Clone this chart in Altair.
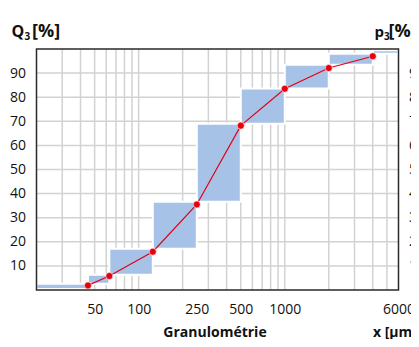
import altair as alt
import pandas as pd

# cumulative distribution Q3 (points on the red curve)
sizes = [45, 63, 125, 250, 500, 1000, 2000, 4000]
q3 = [1.9, 5.8, 15.9, 35.5, 68.2, 83.5, 92.1, 97.0]

# class rectangles (p3)
bar_from = [20, 45, 63, 125, 250, 500, 1000, 2000, 4000]
bar_to = [45, 63, 125, 250, 500, 1000, 2000, 4000, 6000]
bar_edges = [0.4, 2.6, 6.3, 17.1, 36.6, 69.0, 83.6, 93.5, 98.0, 99.5]

x_ticks = [50, 100, 250, 500, 1000, 6000]
y_ticks = [10, 20, 30, 40, 50, 60, 70, 80, 90]
x_grid = [30, 40, 50, 60, 70, 80, 90, 100, 200, 300, 400, 500, 600, 700, 800, 900,
          1000, 2000, 3000, 4000, 5000]

W, H = 362, 241
FONT = "Open Sans"
GRID = "#d2d2d2"

xs = alt.Scale(type="log", domain=[20, 6000], nice=False)
ys = alt.Scale(domain=[0, 100], nice=False)

axis_common = dict(labelFont=FONT, labelFontSize=14, labelColor="#111111",
                   ticks=False, domain=False, grid=False, title=None)
x_axis = alt.Axis(values=x_ticks, labelPadding=12, labelFlush=False,
                  labelOverlap=False, format="d", **axis_common)

bars_df = pd.DataFrame({"x0": bar_from, "x1": bar_to,
                        "y0": bar_edges[:-1], "y1": bar_edges[1:]})
pts_df = pd.DataFrame({"x": sizes, "q": q3})

vgrid = alt.Chart(pd.DataFrame({"g": x_grid})).mark_rule(
    color=GRID, strokeWidth=1.5).encode(x=alt.X("g:Q", scale=xs, axis=x_axis))
hgrid = alt.Chart(pd.DataFrame({"g": y_ticks})).mark_rule(
    color=GRID, strokeWidth=1.5).encode(
    y=alt.Y("g:Q", scale=ys, axis=alt.Axis(values=y_ticks, orient="left",
                                           labelPadding=11, **axis_common)))

bars = alt.Chart(bars_df).mark_rect(color="#a6c2e6", stroke="white", strokeWidth=2).encode(
    x=alt.X("x0:Q", scale=xs, axis=x_axis),
    x2="x1:Q",
    y=alt.Y("y0:Q", scale=ys, axis=None),
    y2="y1:Q",
)

line = alt.Chart(pts_df).mark_line(color="#e2001a", strokeWidth=1.2).encode(
    x=alt.X("x:Q", scale=xs, axis=x_axis),
    y=alt.Y("q:Q", scale=ys, axis=None),
)

points = alt.Chart(pts_df).mark_circle(color="#e8000d", size=50, opacity=1,
                                       stroke="white", strokeWidth=0.6).encode(
    x=alt.X("x:Q", scale=xs, axis=x_axis),
    y=alt.Y("q:Q", scale=ys, axis=alt.Axis(values=y_ticks, orient="right",
                                            labelPadding=10, **axis_common)),
)

frame = alt.Chart(pd.DataFrame({"a": [0]})).mark_rect(
    fillOpacity=0, stroke="#2a2a2a", strokeWidth=1.5).encode(
    x=alt.value(0), x2=alt.value(W), y=alt.value(0), y2=alt.value(H))


def txt(s, x, y, size=16, weight="bold", align="left"):
    return alt.Chart(pd.DataFrame({"t": [s]})).mark_text(
        font=FONT, fontSize=size, fontWeight=weight, align=align,
        baseline="alphabetic", color="#111").encode(
        x=alt.value(x), y=alt.value(y), text="t:N")


titles = [
    txt("Q", -25, -12),
    txt("3", -12, -9, size=10),
    txt("[%]", -4.5, -12, size=18),
    txt("p", 338, -12, size=15),
    txt("3", 347.5, -9, size=10),
    txt("[%]", 352, -12, size=18),
    txt("Granulométrie", 178.5, 288, size=14, align="center"),
    txt("x [µm]", 336.5, 288, size=14),
]

chart = alt.layer(vgrid, hgrid, bars, line, points, frame, *titles).resolve_axis(
    y="independent"
).properties(
    width=W, height=H,
    autosize=alt.AutoSizeParams(type="none"),
    padding={"left": 28.5, "top": 41, "right": 12.5, "bottom": 49},
    background="white",
).configure_view(stroke=None)

chart.save("out.html", embed_options={"renderer": "svg", "actions": False})
